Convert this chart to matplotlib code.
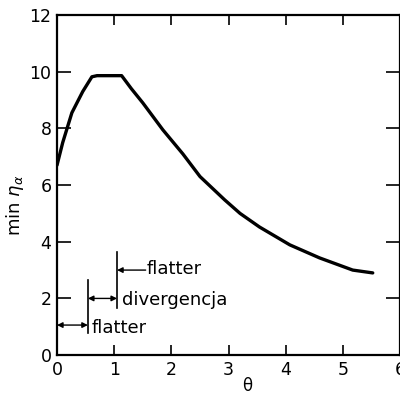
import matplotlib

matplotlib.use("Agg")

import matplotlib.pyplot as plt

# curve
theta = [0.0, 0.1, 0.26, 0.45, 0.61, 0.7, 0.9, 1.13, 1.3, 1.5, 1.85, 2.2, 2.5,
         2.93, 3.2, 3.54, 4.07, 4.59, 5.17, 5.52]
min_eta = [6.7, 7.5, 8.55, 9.3, 9.82, 9.86, 9.86, 9.86, 9.4, 8.9, 7.95, 7.1, 6.3,
           5.48, 5.0, 4.52, 3.89, 3.43, 3.0, 2.9]

# boundaries of the stability regions
boundary_x = [0.54, 1.05]
boundary_lo = [0.78, 1.66]
boundary_hi = [2.65, 3.64]
region_labels = ["flatter", "divergencja", "flatter"]

x_ticks = [0, 1, 2, 3, 4, 5, 6]
y_ticks = [0, 2, 4, 6, 8, 10, 12]

fig = plt.figure(figsize=(4.0, 3.95), dpi=100)
ax = fig.add_axes([0.1425, 0.101, 0.858, 0.861])

ax.plot(theta, min_eta, color="black", linewidth=2.4, solid_capstyle="round")

for bx, lo, hi in zip(boundary_x, boundary_lo, boundary_hi):
    ax.plot([bx, bx], [lo, hi], color="black", linewidth=1.2)

arrow = dict(arrowstyle="<|-|>", color="black", lw=1.0, mutation_scale=8,
             shrinkA=0, shrinkB=0)
ax.annotate("", xy=(0.0, 1.06), xytext=(boundary_x[0], 1.06), arrowprops=arrow)
ax.annotate("", xy=(boundary_x[0], 2.0), xytext=(boundary_x[1], 2.0),
            arrowprops=arrow)
ax.annotate("", xy=(boundary_x[1], 3.0), xytext=(1.55, 3.0),
            arrowprops=dict(arrowstyle="-|>", color="black", lw=1.0,
                            mutation_scale=8, shrinkA=0, shrinkB=0))

ax.text(0.6, 0.95, region_labels[0], fontsize=13, va="center", ha="left")
ax.text(1.14, 1.95, region_labels[1], fontsize=13, va="center", ha="left")
ax.text(1.57, 3.05, region_labels[2], fontsize=13, va="center", ha="left")

ax.set_xlim(0, 6)
ax.set_ylim(0, 12)
ax.set_xticks(x_ticks)
ax.set_yticks(y_ticks)
ax.tick_params(direction="in", top=True, right=True, labelsize=12.5,
               width=1.2, length=10, pad=4)
ax.tick_params(axis="x", which="both", length=7)
for spine in ax.spines.values():
    spine.set_linewidth(1.6)

ax.set_xlabel("θ", fontsize=12)
ax.xaxis.set_label_coords(0.555, -0.065)
ax.set_ylabel(r"min $\eta_\alpha$", fontsize=13)
ax.yaxis.set_label_coords(-0.09, 0.44)

fig.savefig("out.png", dpi=100)
